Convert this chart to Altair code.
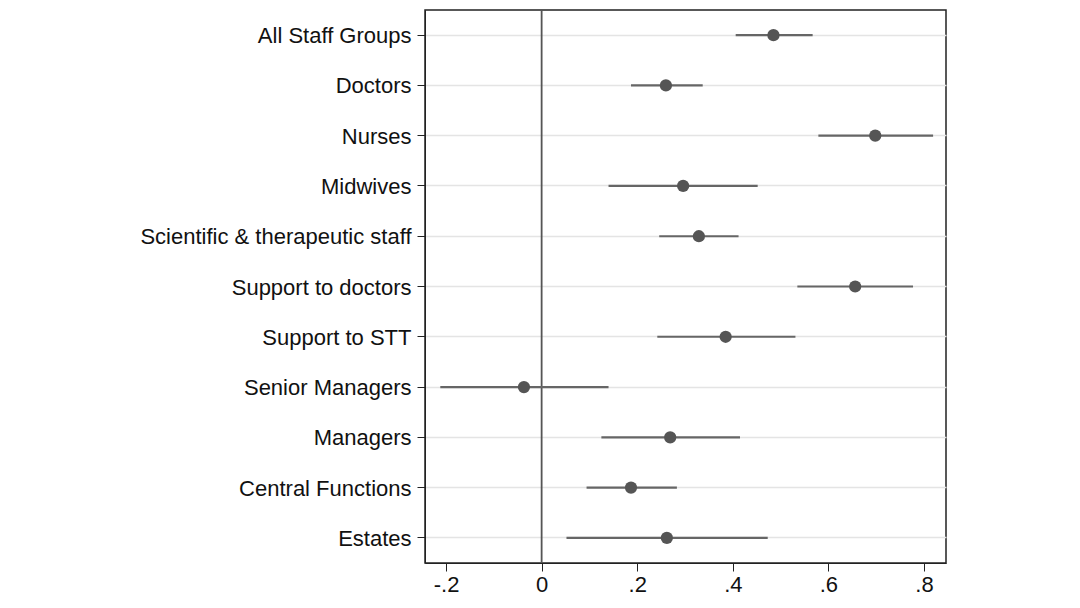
import altair as alt
import pandas as pd

groups = ["All Staff Groups", "Doctors", "Nurses", "Midwives",
          "Scientific & therapeutic staff", "Support to doctors", "Support to STT",
          "Senior Managers", "Managers", "Central Functions", "Estates"]
estimate = [0.485, 0.260, 0.698, 0.296, 0.329, 0.656, 0.385, -0.037, 0.269, 0.187, 0.262]
ci_low = [0.406, 0.187, 0.579, 0.140, 0.246, 0.535, 0.242, -0.212, 0.125, 0.094, 0.052]
ci_high = [0.567, 0.337, 0.819, 0.452, 0.412, 0.777, 0.531, 0.140, 0.415, 0.283, 0.473]
x_ticks = [-0.2, 0, 0.2, 0.4, 0.6, 0.8]

df = pd.DataFrame({"group": groups, "est": estimate, "lo": ci_low, "hi": ci_high})

label_expr = ("datum.value == 0 ? '0' : (datum.value < 0 ? '-' + replace(format(-datum.value, '.1f'), '0.', '.') "
              ": replace(format(datum.value, '.1f'), '0.', '.'))")

xscale = alt.Scale(domain=[-0.244, 0.846], nice=False, zero=False)
font = "Liberation Sans"

ybase = alt.Y("group:N", sort=groups, title=None,
              axis=alt.Axis(labelFont=font, labelFontSize=22, labelColor="#111",
                            labelLimit=500, labelOffset=1,
                            tickSize=8, tickColor="#222", domainColor="#222",
                            labelPadding=6, grid=True, gridColor="#e4e4e4",
                            gridWidth=1.5))
xbase = alt.X("lo:Q", scale=xscale, title=None,
              axis=alt.Axis(values=x_ticks, labelExpr=label_expr, labelFont=font,
                            labelFontSize=22, labelColor="#111", tickSize=8,
                            tickColor="#222", domainColor="#222", grid=False,
                            labelPadding=3))

zero_df = pd.DataFrame({"z": [0]})
zero_line = alt.Chart(zero_df).mark_rule(color="#555", strokeWidth=1.8).encode(
    x=alt.X("z:Q", scale=xscale))

bars = alt.Chart(df).mark_rule(color="#666", strokeWidth=2.2).encode(
    x=xbase, x2="hi:Q", y=ybase)

points = alt.Chart(df).mark_circle(color="#555", opacity=1, size=150).encode(
    x=alt.X("est:Q", scale=xscale), y=alt.Y("group:N", sort=groups))

chart = alt.layer(zero_line, bars, points).properties(
    width=521, height=553,
    autosize=alt.AutoSizeParams(type="none"),
    padding={"left": 417, "top": 2, "right": 10, "bottom": 36},
).configure_view(stroke="#222", strokeWidth=1.5)

chart.save("out.html", embed_options={"renderer": "svg", "actions": False})
